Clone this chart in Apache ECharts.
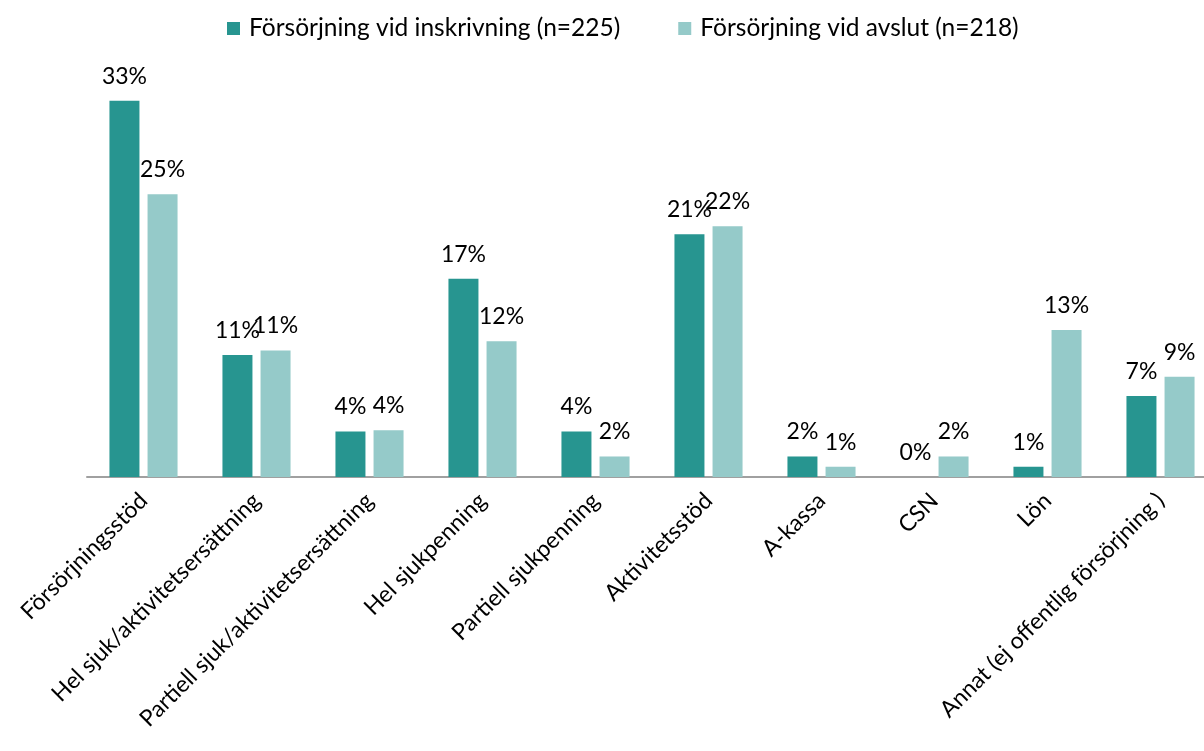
<!DOCTYPE html>
<html>
<head>
<meta charset="utf-8">
<script src="https://cdn.jsdelivr.net/npm/echarts@6/dist/echarts.min.js"></script>
<style>
html, body { margin: 0; padding: 0; background: #fff; }
#chart { width: 1204px; height: 751px; }
</style>
</head>
<body>
<div id="chart"></div>
<script>
var categories = ['Försörjningsstöd', 'Hel sjuk/aktivitetsersättning', 'Partiell sjuk/aktivitetsersättning',
	'Hel sjukpenning', 'Partiell sjukpenning', 'Aktivitetsstöd', 'A-kassa', 'CSN', 'Lön',
	'Annat (ej offentlig försörjning )'];
var inskrivning = [33.0, 10.7, 4.0, 17.4, 4.0, 21.3, 1.8, 0, 0.9, 7.1];
var avslut = [24.8, 11.1, 4.1, 11.9, 1.8, 22.0, 0.9, 1.8, 12.9, 8.8];
var seriesNames = ['Försörjning vid inskrivning (n=225)', 'Försörjning vid avslut (n=218)'];

var font = 'Lato, "Liberation Sans", sans-serif';
var labelStyle = {
	show: true,
	position: 'top',
	distance: 13,
	color: '#000',
	fontSize: 23,
	fontFamily: font,
	formatter: function (p) { return Math.round(p.value) + '%'; }
};

var option = {
	animation: false,
	textStyle: { fontFamily: font },
	legend: {
		data: seriesNames,
		top: 11,
		left: 222,
		itemWidth: 13,
		itemHeight: 13,
		itemGap: 58,
		icon: 'rect',
		textStyle: { fontSize: 24.5, color: '#000', fontFamily: font, padding: [0, 0, 0, 4] }
	},
	grid: { left: 87, width: 1130, top: 78, bottom: 274, containLabel: false, outerBoundsMode: 'none' },
	xAxis: {
		type: 'category',
		data: categories,
		axisTick: { show: false },
		axisLine: { lineStyle: { color: '#a0a0a0', width: 2 } },
		axisLabel: {
			interval: 0,
			rotate: 45,
			margin: 20,
			fontSize: 23,
			color: '#000',
			fontFamily: font
		}
	},
	yAxis: {
		type: 'value',
		min: 0,
		max: 35,
		show: false,
		splitLine: { show: false }
	},
	series: [{
		name: seriesNames[0],
		type: 'bar',
		data: inskrivning,
		barWidth: 30,
		barGap: '27%',
		itemStyle: { color: '#279590' },
		label: labelStyle
	}, {
		name: seriesNames[1],
		type: 'bar',
		data: avslut,
		barWidth: 30,
		barGap: '27%',
		itemStyle: { color: '#95cac9' },
		label: labelStyle
	}]
};

var myChart = echarts.init(document.getElementById('chart'));
myChart.setOption(option);
</script>
</body>
</html>
